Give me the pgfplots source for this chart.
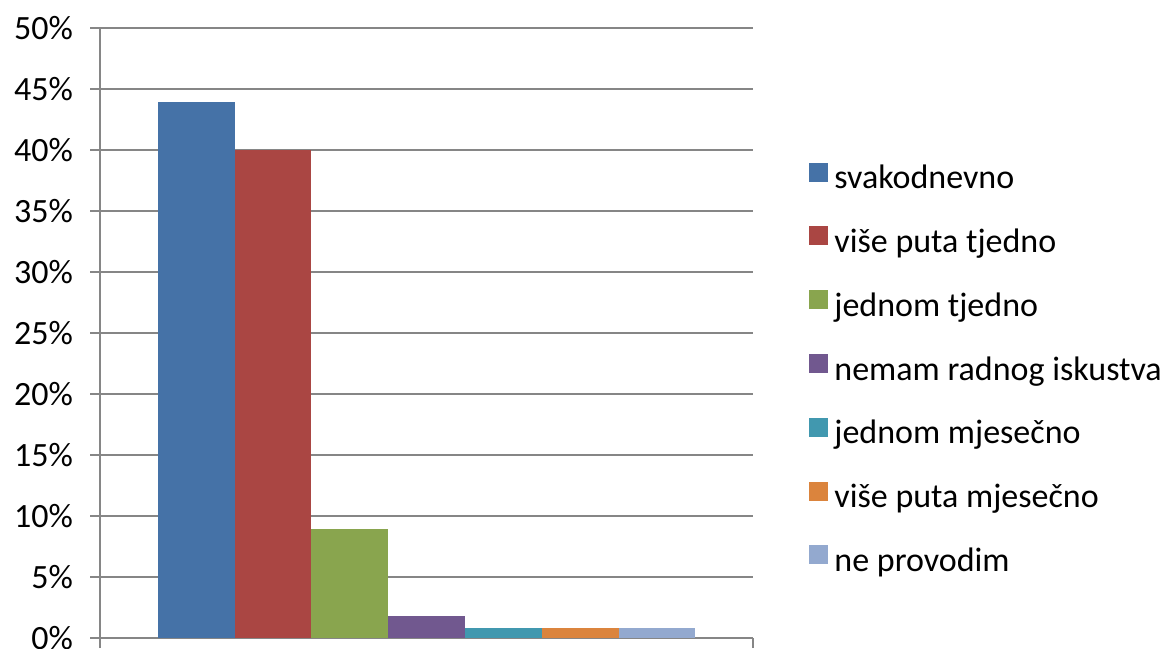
\documentclass[border=0pt]{standalone}
\usepackage{fontspec}
\setmainfont{Carlito}
\usepackage{pgfplots}
\pgfplotsset{compat=1.18}
\definecolor{c1}{RGB}{69,114,167}
\definecolor{c2}{RGB}{170,70,67}
\definecolor{c3}{RGB}{137,165,78}
\definecolor{c4}{RGB}{113,88,143}
\definecolor{c5}{RGB}{65,152,175}
\definecolor{c6}{RGB}{219,132,61}
\definecolor{c7}{RGB}{147,169,207}
\definecolor{gridc}{RGB}{134,134,134}
\pgfplotsset{sq/.style={fill=#1, draw=none,
  legend image code/.code={\fill[fill=#1] (0pt,-0.5pt) rectangle (9.5pt,9pt);}}}
\begin{document}
\begin{tikzpicture}
\path[use as bounding box] (0,0) rectangle (585pt,324pt);
\begin{axis}[
  at={(50pt,5pt)}, anchor=south west,
  scale only axis, width=326.5pt, height=305pt,
  ymin=0, ymax=50, xmin=-1, xmax=1,
  ybar=0pt, bar width=38.4pt,
  xtick={-1,1}, xticklabels={,,},
  ytick={0,5,...,50},
  yticklabel={\pgfmathprintnumber{\tick}\%},
  /pgf/number format/assume math mode=true,
  ticklabel style={font=\fontsize{17}{20}\selectfont},
  yticklabel style={xshift=-5pt},
  ymajorgrids, grid style={gridc, line width=1pt},
  axis lines=left, axis line style={-, gridc, line width=1pt},
  tick style={gridc, line width=1pt}, tick align=outside, major tick length=5pt,
  enlargelimits=false,
  legend cell align=left,
  legend style={at={(1.0858,0.4377)}, anchor=west, draw=none, fill=none,
    inner sep=0pt, row sep=14.9pt, column sep=3pt,
    font=\fontsize{17}{20}\selectfont,
    nodes={inner sep=0pt, text height=12pt, text depth=4pt}},
]
\addplot[sq=c1] coordinates {(0,43.9)};
\addplot[sq=c2] coordinates {(0,40)};
\addplot[sq=c3] coordinates {(0,8.9)};
\addplot[sq=c4] coordinates {(0,1.8)};
\addplot[sq=c5] coordinates {(0,0.8)};
\addplot[sq=c6] coordinates {(0,0.8)};
\addplot[sq=c7] coordinates {(0,0.8)};
\legend{svakodnevno, više puta tjedno, jednom tjedno, nemam radnog iskustva, jednom mjesečno, više puta mjesečno, ne provodim}
\end{axis}
\end{tikzpicture}
\end{document}
